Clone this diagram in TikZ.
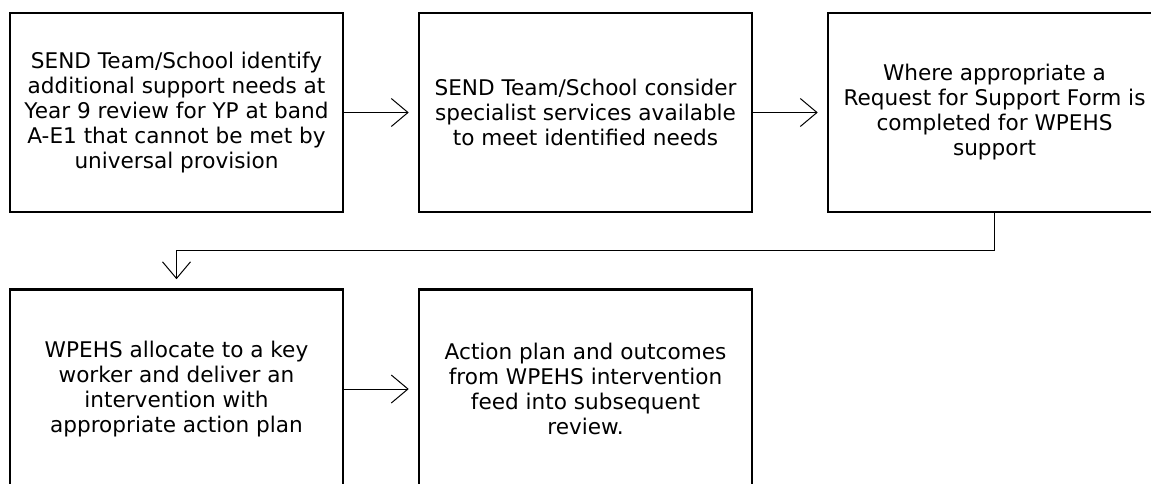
\documentclass[tikz,border=0pt]{standalone}
\usepackage{fontspec}
\setmainfont{DejaVu Sans}
\usetikzlibrary{arrows.meta}
\begin{document}
\begin{tikzpicture}[x=0.75pt,y=-0.75pt,
  flowbox/.style={draw, line width=1.9pt, rectangle, minimum width=249.75pt, minimum height=149.25pt,
    align=center, inner sep=0pt, font=\fontsize{16.2pt}{18.75pt}\selectfont},
  flow/.style={line width=0.75pt, -{Straight Barb[length=12.5pt,width=21pt,line width=0.75pt]}}]
\useasboundingbox (0,0) rectangle (1151,483);
\clip (0,0) rectangle (1151,483);
\fill[white] (0,0) rectangle (1151,483);
\node[flowbox] (b1) at (176.5,112.5) {SEND Team/School identify\\additional support needs at\\Year 9 review for YP at band\\A-E1 that cannot be met by\\universal provision};
\node[flowbox] (b2) at (585.5,112.5) {SEND Team/School consider\\specialist services available\\to meet identified needs};
\node[flowbox] (b3) at (994.5,112.5) {Where appropriate a\\Request for Support Form is\\completed for WPEHS\\support};
\node[flowbox] (b4) at (176.5,389) {WPEHS allocate to a key\\worker and deliver an\\intervention with\\appropriate action plan};
\node[flowbox] (b5) at (585.5,389) {Action plan and outcomes\\from WPEHS intervention\\feed into subsequent\\review.};
\coordinate (c1) at (994.5,250);
\coordinate (c2) at (176.5,250);
\draw[flow] (b1.east) -- ([xshift=-6.75pt]b2.west);
\draw[flow] (b2.east) -- ([xshift=-6.75pt]b3.west);
\draw[flow] (b3.south) -- (c1) -- (c2) -- ([yshift=6.75pt]b4.north);
\draw[flow] (b4.east) -- ([xshift=-6.75pt]b5.west);
\end{tikzpicture}
\end{document}
